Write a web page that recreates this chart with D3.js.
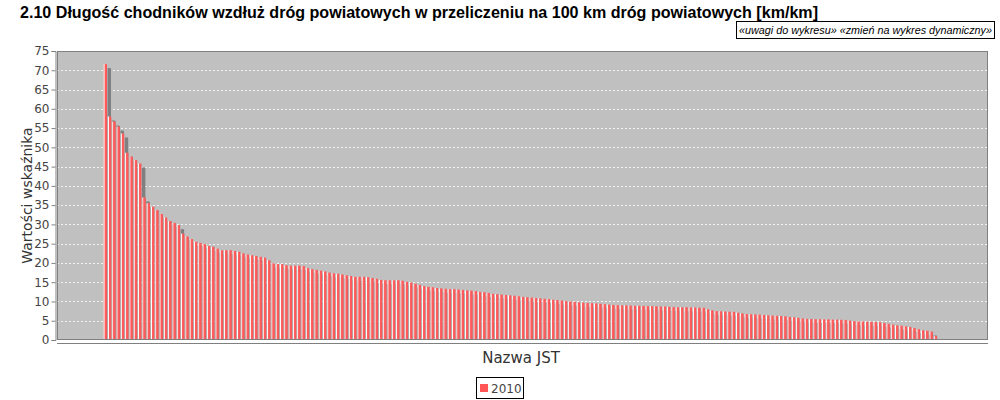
<!DOCTYPE html>
<html>
<head>
<meta charset="utf-8">
<script src="https://cdn.jsdelivr.net/npm/d3@7"></script>
<style>
  body { margin: 0; background: #fff; }
  text { font-family: "Liberation Sans", Arial, sans-serif; }
</style>
</head>
<body>
<svg id="c" width="1000" height="400"></svg>
<script>
// ---- data ----
const chartTitle = "2.10 Długość chodników wzdłuż dróg powiatowych w przeliczeniu na 100 km dróg powiatowych [km/km]";
const linksText = "«uwagi do wykresu» «zmień na wykres dynamiczny»";
const yLabel = "Wartości wskaźnika";
const xLabel = "Nazwa JST";
const seriesName = "2010";
const yTicks = [0, 5, 10, 15, 20, 25, 30, 35, 40, 45, 50, 55, 60, 65, 70, 75];

// values, sorted descending
const values = [
  71.6, 58.0, 56.7, 55.4, 53.6, 48.6, 47.6, 46.7, 45.8, 37.0,
  35.5, 34.6, 33.7, 32.7, 31.8, 30.9, 30.4, 29.8, 27.6, 26.9,
  26.2, 25.5, 25.2, 24.9, 24.4, 24.2, 23.7, 23.3, 23.3, 23.3,
  23.1, 22.9, 22.5, 22.2, 22.0, 21.8, 21.6, 21.4, 20.7, 19.9,
  19.7, 19.7, 19.4, 19.3, 19.3, 19.3, 19.2, 18.7, 18.4, 18.2,
  18.0, 17.8, 17.5, 17.3, 17.2, 17.0, 16.8, 16.6, 16.4, 16.4,
  16.4, 16.3, 16.1, 15.9, 15.6, 15.5, 15.5, 15.5, 15.5, 15.4,
  15.1, 14.9, 14.6, 14.3, 14.0, 13.8, 13.7, 13.5, 13.4, 13.3,
  13.2, 13.2, 13.1, 13.0, 12.9, 12.8, 12.7, 12.5, 12.4, 12.2,
  12.0, 11.9, 11.8, 11.7, 11.6, 11.5, 11.35, 11.2, 11.1, 11.0,
  10.9, 10.8, 10.7, 10.6, 10.45, 10.35, 10.25, 10.1, 10.0, 9.9,
  9.8, 9.7, 9.6, 9.55, 9.5, 9.4, 9.3, 9.2, 9.1, 9.05,
  9.0, 9.0, 8.95, 8.9, 8.9, 8.85, 8.8, 8.8, 8.75, 8.7,
  8.7, 8.6, 8.55, 8.5, 8.5, 8.5, 8.45, 8.45, 8.4, 8.35,
  8.0, 7.7, 7.5, 7.45, 7.4, 7.35, 7.3, 7.1, 6.9, 6.75,
  6.7, 6.65, 6.6, 6.5, 6.4, 6.35, 6.3, 6.25, 6.15, 6.0,
  5.9, 5.75, 5.6, 5.5, 5.45, 5.4, 5.4, 5.35, 5.35, 5.3,
  5.3, 5.25, 5.2, 5.05, 4.9, 4.8, 4.8, 4.75, 4.7, 4.65,
  4.6, 4.4, 4.2, 4.0, 3.8, 3.7, 3.55, 3.4, 3.1, 2.8,
  2.55, 2.4, 2.2, 1.0, 0.2
];
// unit names are not shown on the chart
const categories = values.map((v, i) => "JST " + (i + 1));

// ---- layout ----
const svg = d3.select("#c");
const plot = { left: 57, right: 988, top: 51, bottom: 340 };
const plotW = plot.right - plot.left;

svg.append("rect").attr("width", 1000).attr("height", 400).attr("fill", "#fff");

const x = d3.scaleBand()
  .domain(categories)
  .range([plot.left + plotW * 0.05, plot.right - plotW * 0.05])
  .paddingInner(0.2)
  .paddingOuter(0);

const y = d3.scaleLinear().domain([0, 75]).range([plot.bottom, plot.top]);

// gradient for bars (highlight on the left)
const defs = svg.append("defs");
const grad = defs.append("linearGradient").attr("id", "barGrad")
  .attr("x1", 0).attr("x2", 1).attr("y1", 0).attr("y2", 0);
grad.append("stop").attr("offset", "0%").attr("stop-color", "#ffd8d8");
grad.append("stop").attr("offset", "18%").attr("stop-color", "#ffffff");
grad.append("stop").attr("offset", "40%").attr("stop-color", "#ff6262");
grad.append("stop").attr("offset", "80%").attr("stop-color", "#ff5858");
grad.append("stop").attr("offset", "100%").attr("stop-color", "#ee5050");

defs.append("clipPath").attr("id", "plotClip")
  .append("rect")
  .attr("x", plot.left).attr("y", plot.top)
  .attr("width", plotW).attr("height", plot.bottom - plot.top);

// plot background
svg.append("rect")
  .attr("x", plot.left).attr("y", plot.top)
  .attr("width", plotW).attr("height", plot.bottom - plot.top)
  .attr("fill", "#c0c0c0");

// grid lines
svg.append("g")
  .selectAll("line")
  .data(yTicks.filter(d => d > 0))
  .join("line")
  .attr("x1", plot.left).attr("x2", plot.right)
  .attr("y1", d => Math.round(y(d)) + 0.5).attr("y2", d => Math.round(y(d)) + 0.5)
  .attr("stroke", "#f2f2f2")
  .attr("stroke-width", 1)
  .attr("stroke-dasharray", "2,2");

const barsG = svg.append("g").attr("clip-path", "url(#plotClip)");

// shadows
barsG.append("g")
  .selectAll("rect")
  .data(values)
  .join("rect")
  .attr("x", (d, i) => x(categories[i]) + 4)
  .attr("y", d => y(d) + 4)
  .attr("width", x.bandwidth())
  .attr("height", d => y(0) - y(d))
  .attr("fill", "#808080");

// bars
barsG.append("g")
  .selectAll("rect")
  .data(values)
  .join("rect")
  .attr("x", (d, i) => x(categories[i]))
  .attr("y", d => y(d))
  .attr("width", x.bandwidth())
  .attr("height", d => y(0) - y(d))
  .attr("fill", "url(#barGrad)");

// plot outline
svg.append("rect")
  .attr("x", plot.left + 0.5).attr("y", plot.top + 0.5)
  .attr("width", plotW - 1).attr("height", plot.bottom - plot.top - 1)
  .attr("fill", "none")
  .attr("stroke", "#808080");

// y axis
const yAxis = d3.axisLeft(y).tickValues(yTicks).tickSize(4).tickPadding(2);
const yg = svg.append("g")
  .attr("transform", `translate(${plot.left - 1.5},0)`)
  .call(yAxis);
yg.select(".domain").attr("stroke", "#808080");
yg.selectAll(".tick line").attr("stroke", "#808080");
yg.selectAll(".tick text")
  .attr("fill", "#444")
  .style("font-family", "'DejaVu Sans', sans-serif")
  .style("font-size", "12px");

// bottom axis line
svg.append("line")
  .attr("x1", plot.left).attr("x2", plot.right)
  .attr("y1", plot.bottom + 3.5).attr("y2", plot.bottom + 3.5)
  .attr("stroke", "#808080");

// axis labels
svg.append("text")
  .attr("transform", `translate(32,${(plot.top + plot.bottom) / 2}) rotate(-90)`)
  .attr("text-anchor", "middle")
  .attr("fill", "#333")
  .style("font-family", "'DejaVu Sans', sans-serif")
  .style("font-size", "14px")
  .text(yLabel);

svg.append("text")
  .attr("x", 521).attr("y", 363)
  .attr("text-anchor", "middle")
  .attr("fill", "#333")
  .style("font-family", "'DejaVu Sans', sans-serif")
  .style("font-size", "15px")
  .text(xLabel);

// title
svg.append("text")
  .attr("x", 20).attr("y", 18)
  .attr("font-weight", "bold")
  .attr("fill", "#000")
  .attr("textLength", 798)
  .attr("lengthAdjust", "spacingAndGlyphs")
  .style("font-size", "16px")
  .text(chartTitle);

// links box
svg.append("rect")
  .attr("x", 736.5).attr("y", 21.5)
  .attr("width", 258).attr("height", 17)
  .attr("fill", "#fff").attr("stroke", "#000");
svg.append("text")
  .attr("x", 739).attr("y", 34)
  .attr("font-style", "italic")
  .attr("fill", "#000")
  .attr("textLength", 253)
  .attr("lengthAdjust", "spacingAndGlyphs")
  .style("font-size", "10.5px")
  .text(linksText);

// legend
const legend = svg.append("g");
legend.append("rect")
  .attr("x", 476.5).attr("y", 377.5)
  .attr("width", 47).attr("height", 21)
  .attr("fill", "#fff").attr("stroke", "#000");
legend.append("rect")
  .attr("x", 480).attr("y", 384)
  .attr("width", 8).attr("height", 8)
  .attr("fill", "#ff5555");
legend.append("text")
  .attr("x", 491).attr("y", 393)
  .attr("fill", "#444")
  .style("font-family", "'DejaVu Sans', sans-serif")
  .style("font-size", "12px")
  .text(seriesName);
</script>
</body>
</html>
